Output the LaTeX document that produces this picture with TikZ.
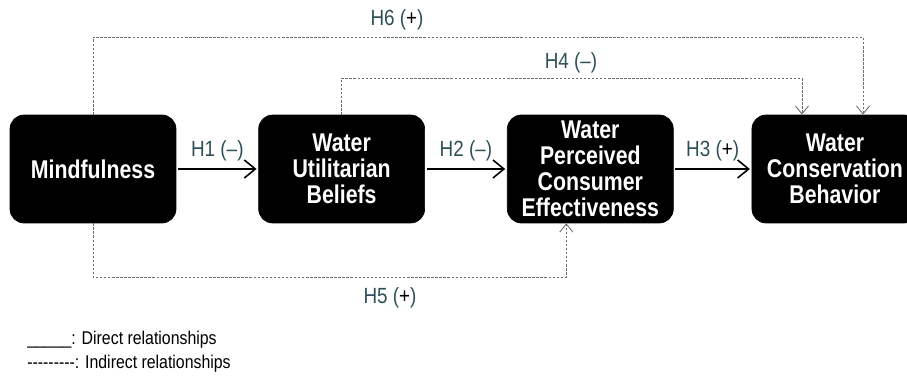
\documentclass[tikz,border=0pt]{standalone}
\usepackage{fontspec}
\setmainfont{Liberation Sans}[FakeStretch=0.86]
\newfontfamily\boxfont{Liberation Sans}[FakeStretch=0.83]
\definecolor{labteal}{RGB}{45,80,88}
\definecolor{dotgray}{RGB}{110,110,110}
\usetikzlibrary{arrows.meta, positioning}
\tikzset{
	construct/.style={rectangle, rounded corners=8pt, fill=black, draw=black, text=white, align=center, minimum width=3.32cm, minimum height=2.16cm, inner sep=0pt, font=\boxfont\fontsize{14.6}{14.8}\selectfont\bfseries},
	direct/.style={-{Straight Barb[length=2.2mm, width=3.6mm]}, line width=0.9pt, shorten <=1pt, shorten >=1pt},
	indirect/.style={-{Straight Barb[length=1.6mm, width=2.6mm]}, draw=dotgray, line width=0.5pt, dash pattern=on 1.4pt off 0.9pt},
	hyp/.style={font=\fontsize{12.5}{14}\selectfont, text=labteal, inner sep=1pt},
	legend/.style={font=\fontsize{10.5}{12}\selectfont, anchor=west, inner sep=0pt},
}
\newcommand{\pos}{{\color{black}+}}

\begin{document}
\begin{tikzpicture}[x=0.02cm, y=-0.02cm, node distance=1.64cm]
		\useasboundingbox (0,0) rectangle (907,388);
		% constructs
		\node[construct] (mind) at (93,169) {Mindfulness};
		\node[construct, right=of mind] (wub) {Water\\Utilitarian\\Beliefs};
		\node[construct, right=of wub] (wpce) {Water\\Perceived\\Consumer\\Effectiveness};
		\node[construct, right=1.56cm of wpce] (wcb) {Water\\Conservation\\Behavior};
		% direct paths
		\draw[direct] (mind) -- node[hyp, above=3pt] (h1) {H1 (–)} (wub);
		\draw[direct] (wub) -- node[hyp, above=3pt] (h2) {H2 (–)} (wpce);
		\draw[direct] (wpce) -- node[hyp, above=3pt] (h3) {H3 (\pos)} (wcb);
		% indirect paths
		\coordinate (h6y) at (0,37);
		\coordinate (h4y) at (0,78);
		\coordinate (h5y) at (0,277);
		\draw[indirect] (mind.north) -- (mind.north |- h6y) -| ([xshift=0.56cm]wcb.north);
		\draw[indirect] (wub.north) -- (wub.north |- h4y) -| ([xshift=-0.66cm]wcb.north);
		\draw[indirect] (mind.south) -- (mind.south |- h5y) -| ([xshift=-0.48cm]wpce.south);
		\node[hyp] (h6) at (397,20) {H6 (\pos)};
		\node[hyp] (h4) at (571,63) {H4 (–)};
		\node[hyp] (h5) at (390,298) {H5 (\pos)};
		% legend
		\node[legend] (lgdir) at (27,340) {\_\_\_\_\_: Direct relationships};
		\node[legend] (lgind) at (27,364) {-{}-{}-{}-{}-{}-{}-{}-{}-: Indirect relationships};
	\end{tikzpicture}
\end{document}
